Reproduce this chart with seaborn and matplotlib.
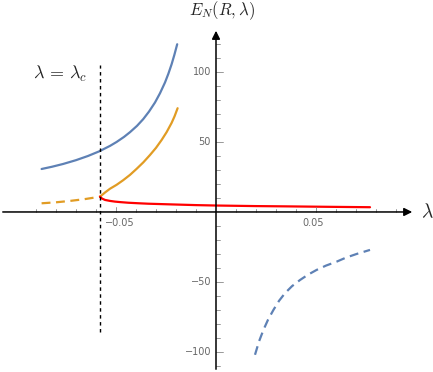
import numpy as np
import seaborn as sns
import matplotlib.pyplot as plt

# values
lam_blue = [-0.0872, -0.082, -0.0764, -0.070, -0.064, -0.0584, -0.053, -0.0497, -0.046, -0.043,
            -0.0395, -0.0364, -0.0335, -0.0305, -0.028, -0.0255, -0.0238, -0.0222, -0.0208, -0.0194]
E_blue = [30.7, 32.3, 34.3, 37.0, 40.0, 43.3, 47.2, 50.0, 53.6, 57.0,
          61.5, 66.3, 71.7, 78.2, 84.8, 92.5, 98.8, 105.5, 112.3, 119.8]

lam_orange = [-0.058, -0.0555, -0.053, -0.0497, -0.0464, -0.043, -0.0397, -0.0363, -0.033,
              -0.030, -0.0272, -0.0247, -0.0222, -0.0207, -0.0192]
E_orange = [10.9, 13.9, 16.6, 19.4, 22.7, 26.5, 30.8, 35.5, 40.7,
            45.8, 51.4, 57.0, 63.6, 68.4, 74.1]

lam_orange_dash = [-0.0872, -0.080, -0.073, -0.066, -0.058]
E_orange_dash = [6.2, 6.9, 7.9, 9.1, 10.9]

lam_red = [-0.058, -0.057, -0.0555, -0.053, -0.0505, -0.0475, -0.0439, -0.0385, -0.0339,
           -0.0222, -0.010, 0.0003, 0.020, 0.0353, 0.055, 0.077]
E_red = [10.9, 9.6, 8.6, 7.9, 7.4, 7.0, 6.6, 6.2, 5.9,
         5.4, 4.9, 4.6, 4.2, 4.0, 3.7, 3.4]

lam_blue_dash = [0.0195, 0.0215, 0.0237, 0.026, 0.0287, 0.0315, 0.0345, 0.038, 0.042,
                 0.046, 0.0503, 0.055, 0.0603, 0.065, 0.0703, 0.077]
E_blue_dash = [-102, -92.5, -84.3, -77, -70, -63.5, -58, -53, -48.6,
               -44.8, -41.4, -38.3, -35.5, -32.6, -30, -27.1]

lam_c = -0.058

blue = "#5E81B5"
orange = "#E19C24"
red = "#FF0000"

sns.set_style("white")
plt.rcParams["mathtext.fontset"] = "cm"

fig = plt.figure(figsize=(4.33, 3.72), dpi=100)
ax = fig.add_axes([0, 0, 1, 1])

sns.lineplot(x=lam_blue, y=E_blue, ax=ax, color=blue, lw=1.6)
sns.lineplot(x=lam_orange, y=E_orange, ax=ax, color=orange, lw=1.6)
sns.lineplot(x=lam_orange_dash, y=E_orange_dash, ax=ax, color=orange, lw=1.6)
ax.lines[-1].set_dashes([4, 2.5])
sns.lineplot(x=lam_red, y=E_red, ax=ax, color=red, lw=1.6)
sns.lineplot(x=lam_blue_dash, y=E_blue_dash, ax=ax, color=blue, lw=1.6)
ax.lines[-1].set_dashes([4, 2.5])

ax.plot([lam_c, lam_c], [-86, 105], color="black", lw=1, linestyle=(0, (2.5, 2.5)))
ax.text(-0.078, 98.6, r"$\lambda\,=\,\lambda_c$", fontsize=13, ha="center", va="center")

ax.set_xlim(-0.108, 0.1085)
ax.set_ylim(-114.3, 151.4)

for s in ["top", "right", "left", "bottom"]:
    ax.spines[s].set_visible(False)

# axes with arrows, crossing at the origin
ax.annotate("", xy=(0.0995, 0), xytext=(-0.108, 0),
            arrowprops=dict(arrowstyle="-|>", color="black", lw=1.1, mutation_scale=12))
ax.annotate("", xy=(0, 131.4), xytext=(0, -114.3),
            arrowprops=dict(arrowstyle="-|>", color="black", lw=1.1, mutation_scale=12))

ax.text(0.1055, 0, r"$\lambda$", fontsize=14, ha="center", va="center")
ax.text(0.003, 143.6, r"$E_N(R,\lambda)$", fontsize=12, ha="center", va="center")

# Mathematica-like ticks
ax.grid(False)
ax.set_xticks([])
ax.set_yticks([])
tick_col = "#666666"
for v in np.arange(-0.09, 0.1, 0.01):
    if abs(v) < 1e-9:
        continue
    major = abs(abs(v) - 0.05) < 1e-9
    h = 3.2 if major else 2.0
    ax.plot([v, v], [0, h], color="#888888", lw=0.6)
for v in range(-110, 130, 10):
    if v == 0:
        continue
    w = 0.0035 if v % 50 == 0 else 0.0022
    ax.plot([0, w], [v, v], color="#888888", lw=0.6)

for v, lab in [(-0.0483, "\u22120.05"), (0.0485, "0.05")]:
    ax.text(v, -4.5, lab, fontsize=7, color=tick_col, ha="center", va="top")
for v in [100, 50, -50, -100]:
    lab = str(v).replace("-", "\u2212")
    ax.text(-0.0025, v, lab, fontsize=7, color=tick_col, ha="right", va="center")

fig.savefig("out.png", dpi=100)
